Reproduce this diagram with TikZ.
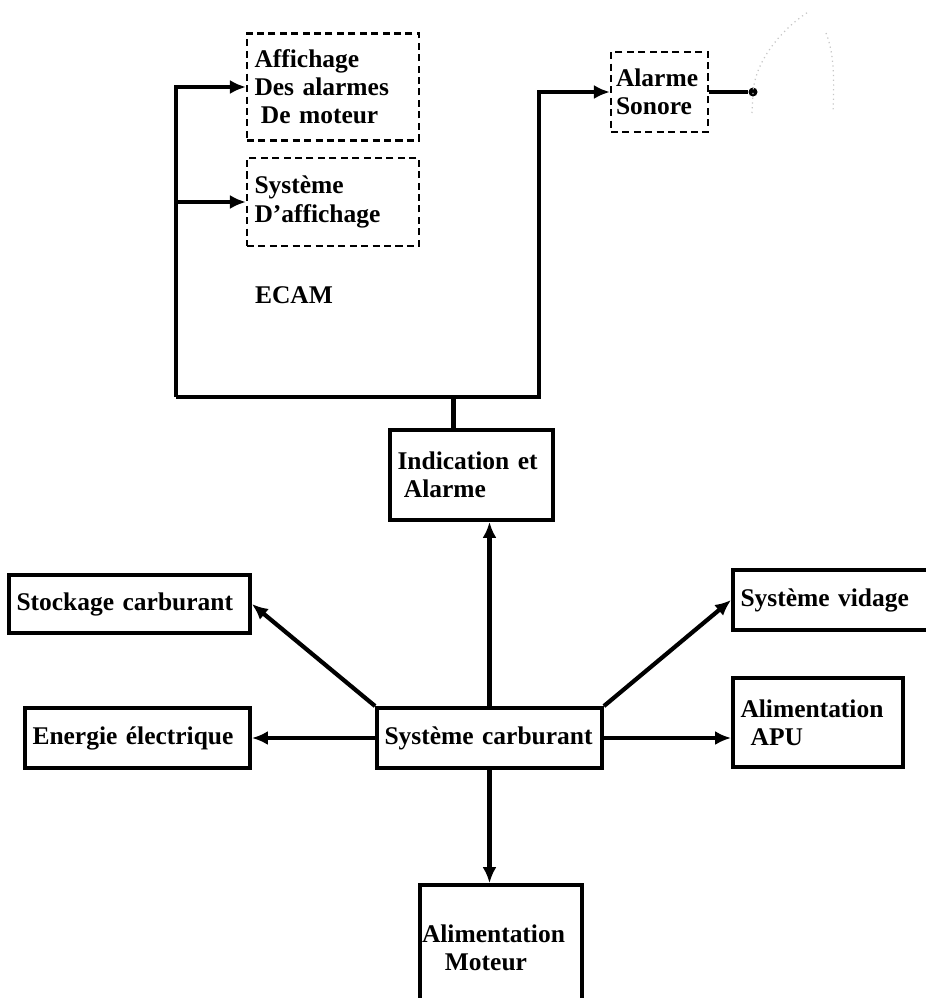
\documentclass[tikz,border=0pt]{standalone}
\usepackage{fontspec}
\setmainfont{Liberation Serif}
\usetikzlibrary{positioning,arrows.meta}

\begin{document}
\begin{tikzpicture}[x=0.02cm, y=-0.02cm,
    every node/.style={font=\bfseries\fontsize{14.5}{16}\selectfont},
    block/.style={draw, line width=2.2pt, align=left, inner xsep=0.15cm, inner ysep=0pt},
    dashblock/.style={draw, line width=1.2pt, dash pattern=on 4pt off 2.5pt, align=left, inner xsep=0.15cm, inner ysep=0pt},
    wire/.style={line width=2.4pt},
    arrow/.style={wire, -{Latex[length=3.2mm,width=2.8mm]}},
    bell/.style={gray!45, dotted, line width=0.7pt}]
  \useasboundingbox (0,0) rectangle (926,998);

  \node[dashblock, text width=3.14cm, minimum height=2.14cm] (engineAlarms) at (333,87)
    {Affichage\\Des alarmes\\\hspace*{.25em}De moteur};
  \node[dashblock, text width=3.14cm, minimum height=1.76cm] (displaySystem) at (333,202)
    {Système\\D'affichage};
  \node[dashblock, inner xsep=0.1cm, text width=1.74cm, minimum height=1.6cm] (soundAlarm) at (659.5,92)
    {Alarme\\Sonore};
  \node[circle, fill, inner sep=0pt, minimum size=0.18cm] (horn) at (753,92) {};
  \node (ecam) at (294,295) {ECAM};

  \node[block, text width=2.96cm, minimum height=1.8cm] (indic) at (471.5,475)
    {Indication et\\\hspace*{.25em}Alarme};
  \node[block, text width=4.2cm, minimum height=1.2cm] (fuelSystem) at (489.5,738)
    {Système carburant};
  \node[block, text width=4.52cm, minimum height=1.16cm] (storage) at (129.5,604)
    {Stockage carburant};
  \node[block, text width=4.2cm, minimum height=1.2cm] (power) at (137.5,738)
    {Energie électrique};
  \node[block, text width=3.64cm, minimum height=1.2cm] (dump) at (831.5,600)
    {Système vidage};
  \node[block, text width=3.1cm, minimum height=1.78cm] (apu) at (818,722.5)
    {Alimentation\\\hspace*{.4em}APU};
  \node[block, inner xsep=0.04cm, text width=3.16cm, minimum height=2.5cm] (engineFeed) at (501,947.5)
    {Alimentation\\\hspace*{.9em}Moteur};

  \coordinate (busLeft) at (176,397);
  \coordinate (busRight) at (539,397);
  \draw[wire] ([xshift=-0.36cm]indic.north) -- ([xshift=-0.36cm]indic.north |- busLeft);
  \draw[arrow] (busLeft) |- (engineAlarms.west);
  \draw[arrow] (busLeft |- displaySystem.west) -- (displaySystem.west);
  \draw[arrow] (busLeft) -- (busRight) |- (soundAlarm.west);
  \draw[wire] (soundAlarm.east) -- (horn);
  \draw[bell] (752,113) -- (horn.center) .. controls (756,58) and (784,28) .. (808,12);
  \draw[bell] (826,33) .. controls (835,55) and (834,85) .. (833,112);

  \draw[arrow] (fuelSystem.north) -- (fuelSystem.north |- indic.south);
  \draw[arrow] (fuelSystem.south) -- (fuelSystem.south |- engineFeed.north);
  \draw[arrow] (fuelSystem.north west) -- (storage.east);
  \draw[arrow] (fuelSystem.north east) -- (dump.west);
  \draw[arrow] (fuelSystem.west) -- (power.east);
  \draw[arrow] (fuelSystem.east) -- (fuelSystem.east -| apu.west);
\end{tikzpicture}
\end{document}
